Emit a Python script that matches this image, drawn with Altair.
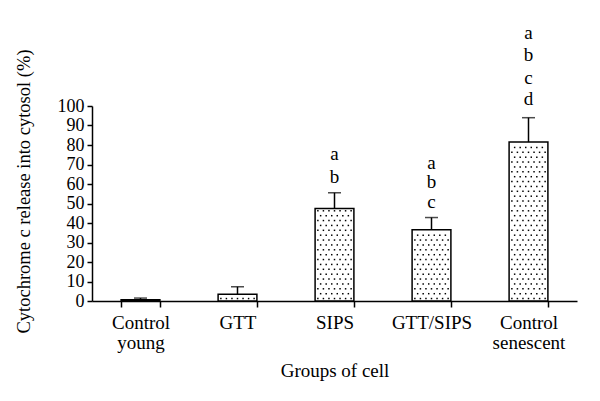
import altair as alt
import pandas as pd

groups = ["Control young", "GTT", "SIPS", "GTT/SIPS", "Control senescent"]
values = [0.7, 3.5, 47.5, 36.5, 81.5]
errors = [0.8, 3.8, 8.0, 6.3, 12.5]

# significance letters per group and their heights (% units)
letter_groups = ["SIPS", "SIPS", "GTT/SIPS", "GTT/SIPS", "GTT/SIPS",
                 "Control senescent", "Control senescent", "Control senescent", "Control senescent"]
letter_texts = ["a", "b", "a", "b", "c", "a", "b", "c", "d"]
letter_y = [75.5, 63.5, 71.0, 61.0, 51.0, 137.5, 126.0, 114.5, 103.5]
y_ticks = [0, 10, 20, 30, 40, 50, 60, 70, 80, 90, 100]

FONT = "Liberation Serif"
PAD_IN, PAD_OUT = 0.6, 0.3

bars = pd.DataFrame({"group": groups, "value": values,
                     "top": [v + e for v, e in zip(values, errors)]})
letters = pd.DataFrame({"group": letter_groups, "txt": letter_texts, "y": letter_y})

# stipple texture inside each bar (position in band-step units)
rows = []
for i, (g, v) in enumerate(zip(groups, values)):
    k = 0
    y = 1.25
    while y < v - 0.6:
        cols = [1, 3, 5, 7, 9, 11, 13] if k % 2 == 0 else [2, 4, 6, 8, 10, 12]
        for c in cols:
            rows.append({"gx": i + PAD_OUT + (1 - PAD_IN) * c / 14, "y": y})
        k += 1
        y += 2.5
dots = pd.DataFrame(rows)

xscale = alt.Scale(domain=groups, paddingInner=PAD_IN, paddingOuter=PAD_OUT)
yscale = alt.Scale(domain=[0, 100], nice=False)

xaxis = alt.Axis(title="Groups of cell", labelAngle=0,
                 labelExpr="split(datum.label, ' ')",
                 tickBand="extent", tickSize=6,
                 labelPadding=6, labelLineHeight=20,
                 titlePadding=9)

yaxis = alt.Axis(title="Cytochrome c release into cytosol (%)",
                 values=y_ticks, grid=False, labelOverlap=False,
                 tickSize=5, labelPadding=3, titlePadding=24,
                 titleY=85, titleFontSize=18.5)


def X():
    return alt.X("group:N", scale=xscale, sort=groups, axis=xaxis)


def Y(field):
    return alt.Y(field, scale=yscale, axis=yaxis)


base = alt.Chart(bars)

bar = base.mark_bar(fill="white", stroke="black", strokeWidth=1.5).encode(
    x=X(), y=Y("value:Q"),
)

err = base.mark_rule(color="black", strokeWidth=1.5).encode(
    x=X(), y=Y("value:Q"), y2="top:Q",
)

cap = base.mark_tick(color="black", thickness=1.5, size=13, orient="horizontal").encode(
    x=X(), y=Y("top:Q"),
)

txt = alt.Chart(letters).mark_text(fontSize=19, color="black",
                                   baseline="middle").encode(
    x=X(), y=Y("y:Q"), text="txt:N",
)

dot = alt.Chart(dots).mark_square(color="black", size=2.2, opacity=1).encode(
    x=alt.X("gx:Q", scale=alt.Scale(domain=[0, len(groups)], nice=False, zero=False), axis=None),
    y=Y("y:Q"),
)

main = alt.layer(bar, err, cap, txt)

chart = alt.layer(main, dot).resolve_scale(x="independent").properties(
    width=485, height=195, background="white",
    padding={"left": 5, "top": 15, "right": 5, "bottom": 5},
).configure(font=FONT).configure_view(stroke=None).configure_axis(
    labelFont=FONT, titleFont=FONT, labelColor="black", titleColor="black",
    titleFontWeight="normal", tickColor="black", domainColor="black",
    tickWidth=1.5, domainWidth=1.5, labelFontSize=19, titleFontSize=19,
).configure_axisY(labelFontSize=18).configure_text(font=FONT)

chart.save("out.html", embed_options={"renderer": "svg", "actions": False})
